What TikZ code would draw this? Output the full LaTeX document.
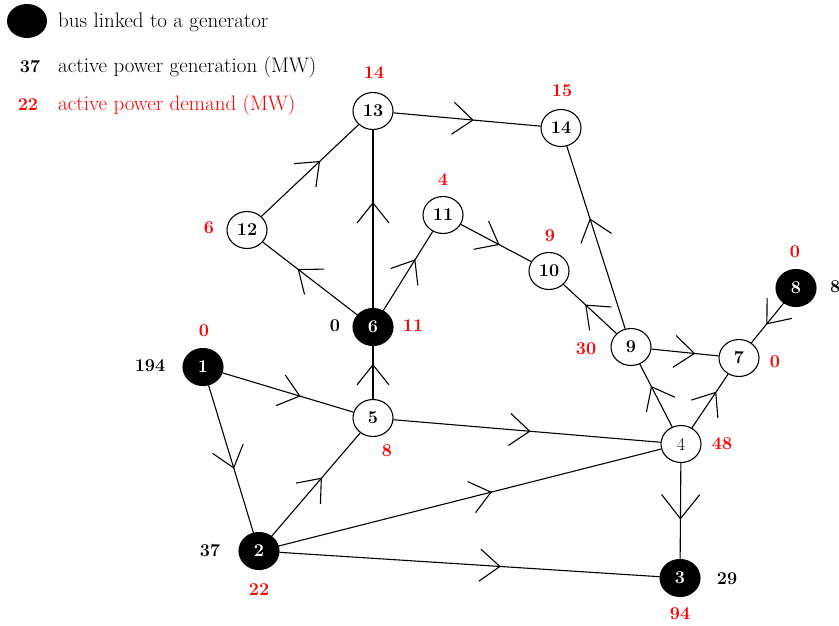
\documentclass[tikz,border=0pt]{standalone}
\usetikzlibrary{shapes.geometric,decorations.markings}
\begin{document}
\begin{tikzpicture}[x=1pt,y=-1pt,
  bus/.style={ellipse,draw=black,line width=1.1pt,fill=white,minimum width=40pt,minimum height=37pt,inner sep=0pt,font=\fontsize{18}{20}\selectfont\bfseries},
  gen/.style={bus,fill=black,text=white},
  lbl/.style={font=\fontsize{18}{20}\selectfont\bfseries,inner sep=0pt},
  dem/.style={lbl,text=red},
  legtext/.style={font=\fontsize{21}{24}\selectfont,inner sep=0pt,anchor=west},
  line/.style={line width=1.1pt},
  mid/.style={line,postaction={decorate,decoration={markings,mark=at position #1 with {\draw[line width=1.1pt] (-20pt,16pt)--(0pt,0pt)--(-20pt,-16pt);}}}},
  bigmid/.style={line,postaction={decorate,decoration={markings,mark=at position #1 with {\draw[line width=1.1pt] (-24pt,19pt)--(0pt,0pt)--(-24pt,-19pt);}}}}]
\useasboundingbox (0,0) rectangle (839,625);
% legend
\node[ellipse,fill=black,minimum width=40pt,minimum height=34pt,inner sep=0pt] (lg) at (27,21) {};
\node[legtext] (lgt1) at (58,22) {bus linked to a generator};
\node[lbl] (lgn2) at (30,67) {37};
\node[legtext] (lgt2) at (58,67) {active power generation (MW)};
\node[dem] (lgn3) at (28,105) {22};
\node[legtext,text=red] (lgt3) at (58,105) {active power demand (MW)};
% buses
\node[gen] (b1) at (203,367) {1};
\node[gen] (b2) at (259,551) {2};
\node[gen] (b3) at (680,578) {3};
\node[bus,font=\fontsize{18}{20}\selectfont] (b4) at (681,444) {4};
\node[bus] (b5) at (373,418) {5};
\node[gen] (b6) at (373,327) {6};
\node[bus] (b7) at (739,358) {7};
\node[gen] (b8) at (796,288) {8};
\node[bus] (b9) at (631,347) {9};
\node[bus] (b10) at (549,271) {10};
\node[bus] (b11) at (443,215) {11};
\node[bus] (b12) at (247,230) {12};
\node[bus] (b13) at (373,111) {13};
\node[bus] (b14) at (561,128) {14};
% edges
\draw[mid=0.59] (b1) -- (b5);
\draw[mid=0.56] (b1) -- (b2);
\draw[mid=0.56] (b2) -- (b5);
\draw[mid=0.555] (b2) -- (b4);
\draw[mid=0.58] (b2) -- (b3);
\draw[mid=0.51] (b5) -- (b4);
\draw[mid=0.645] (b5) -- (b6);
\draw[bigmid=0.58] (b4) -- (b3);
\draw[mid=0.59] (b6) -- (b13);
\draw[mid=0.625] (b6) -- (b12);
\draw[mid=0.6] (b12) -- (b13);
\draw[mid=0.64] (b6) -- (b11);
\draw[mid=0.54] (b13) -- (b14);
\draw[mid=0.54] (b11) -- (b10);
\draw[mid=0.58] (b9) -- (b10);
\draw[mid=0.6] (b9) -- (b14);
\draw[mid=0.64] (b9) -- (b7);
\draw[mid=0.64] (b4) -- (b9);
\draw[mid=0.66] (b4) -- (b7);
\draw[mid=0.52] (b8) -- (b7);
% demand labels
\node[dem] (d1) at (204,331) {0};
\node[dem] (d2) at (259,590) {22};
\node[dem] (d3) at (680,614) {94};
\node[dem] (d4) at (722,444) {48};
\node[dem] (d5) at (387,451) {8};
\node[dem] (d6) at (413,326) {11};
\node[dem] (d7) at (775,362) {0};
\node[dem] (d8) at (795,252) {0};
\node[dem] (d9) at (586,349) {30};
\node[dem] (d10) at (550,236) {9};
\node[dem] (d11) at (443,180) {4};
\node[dem] (d12) at (209,228) {6};
\node[dem] (d13) at (374,73) {14};
\node[dem] (d14) at (562,91) {15};
% generation labels
\node[lbl] (g1) at (150,366) {194};
\node[lbl] (g2) at (210,551) {37};
\node[lbl] (g3) at (727,579) {29};
\node[lbl] (g6) at (335,326) {0};
\node[lbl,anchor=west] (g8) at (830,287) {8};
\end{tikzpicture}
\end{document}
